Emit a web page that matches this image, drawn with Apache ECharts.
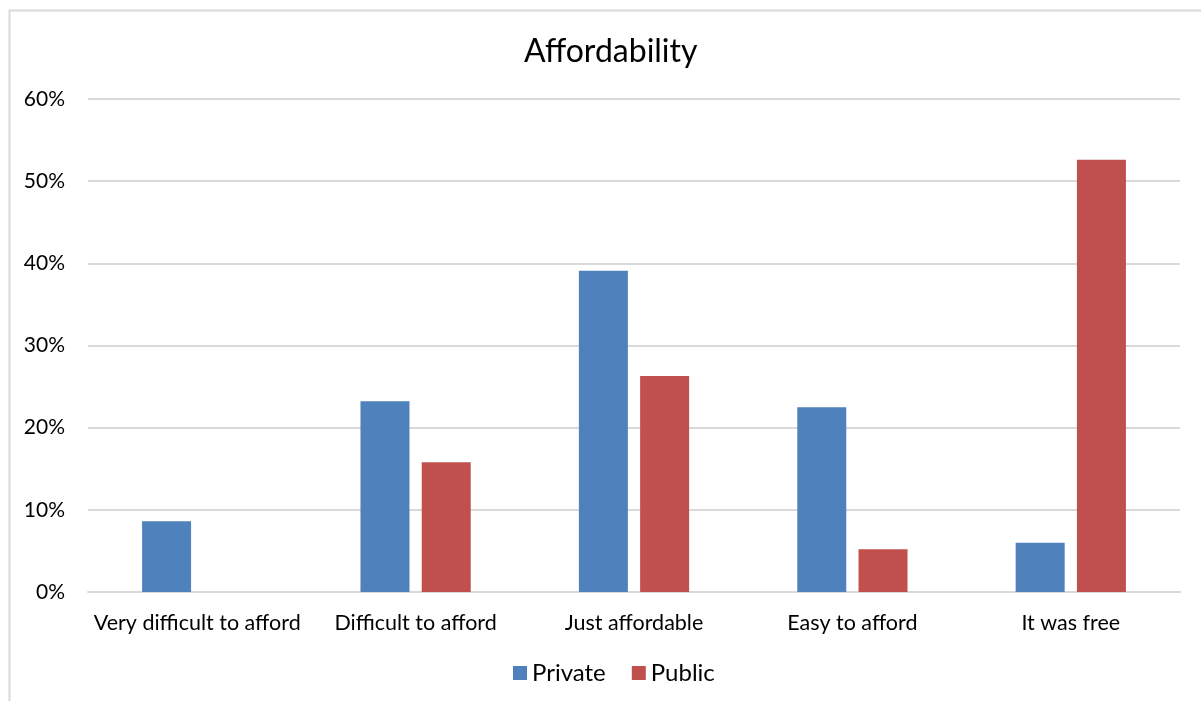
<!DOCTYPE html>
<html>
<head>
<meta charset="utf-8">
<script src="https://cdn.jsdelivr.net/npm/echarts@6/dist/echarts.min.js"></script>
<style>
  html, body { margin: 0; padding: 0; background: #ffffff; }
  #chart { width: 1201px; height: 701px; }
</style>
</head>
<body>
<div id="chart"></div>
<script>
// Affordability responses by school type (share of respondents)
const categories = ['Very difficult to afford', 'Difficult to afford', 'Just affordable', 'Easy to afford', 'It was free'];
const privateValues = [8.6, 23.2, 39.1, 22.5, 6.0];
const publicValues = [0, 15.8, 26.3, 5.2, 52.6];
const yTicks = { min: 0, max: 60, interval: 10 };

const FONT = 'Lato';
const chart = echarts.init(document.getElementById('chart'), null, { renderer: 'canvas' });

chart.setOption({
  backgroundColor: '#ffffff',
  animation: false,
  textStyle: { fontFamily: FONT },
  title: {
    text: 'Affordability',
    left: 519,
    top: 31,
    textStyle: { fontFamily: FONT, fontSize: 32, fontWeight: 'normal', color: '#000000' }
  },
  graphic: [{
    type: 'rect',
    shape: { x: 9.5, y: 10.5, width: 1400, height: 900 },
    style: { fill: 'none', stroke: '#d9d9d9', lineWidth: 2 },
    silent: true
  }],
  legend: {
    bottom: 11,
    left: 508,
    itemWidth: 14,
    itemHeight: 14,
    itemGap: 26,
    icon: 'rect',
    textStyle: { fontFamily: FONT, fontSize: 24, color: '#000000' },
    data: ['Private', 'Public']
  },
  grid: { left: 88, right: 21, top: 99, bottom: 109, containLabel: false },
  xAxis: {
    type: 'category',
    data: categories,
    axisLine: { show: true, lineStyle: { color: '#d9d9d9', width: 2 } },
    axisTick: { show: false },
    axisLabel: { interval: 0, fontFamily: FONT, fontSize: 21.5, color: '#000000', margin: 20 }
  },
  yAxis: {
    type: 'value',
    min: yTicks.min,
    max: yTicks.max,
    interval: yTicks.interval,
    axisLine: { show: false },
    axisTick: { show: false },
    splitLine: { lineStyle: { color: '#d9d9d9', width: 2 } },
    axisLabel: { fontFamily: FONT, fontSize: 21, color: '#000000', margin: 23, formatter: '{value}%' }
  },
  series: [
    {
      name: 'Private', type: 'bar', data: privateValues,
      barWidth: 49, barGap: '25%',
      itemStyle: { color: '#4f81bd' }
    },
    {
      name: 'Public', type: 'bar', data: publicValues,
      barWidth: 49,
      itemStyle: { color: '#c0504d' }
    }
  ]
});
</script>
</body>
</html>
